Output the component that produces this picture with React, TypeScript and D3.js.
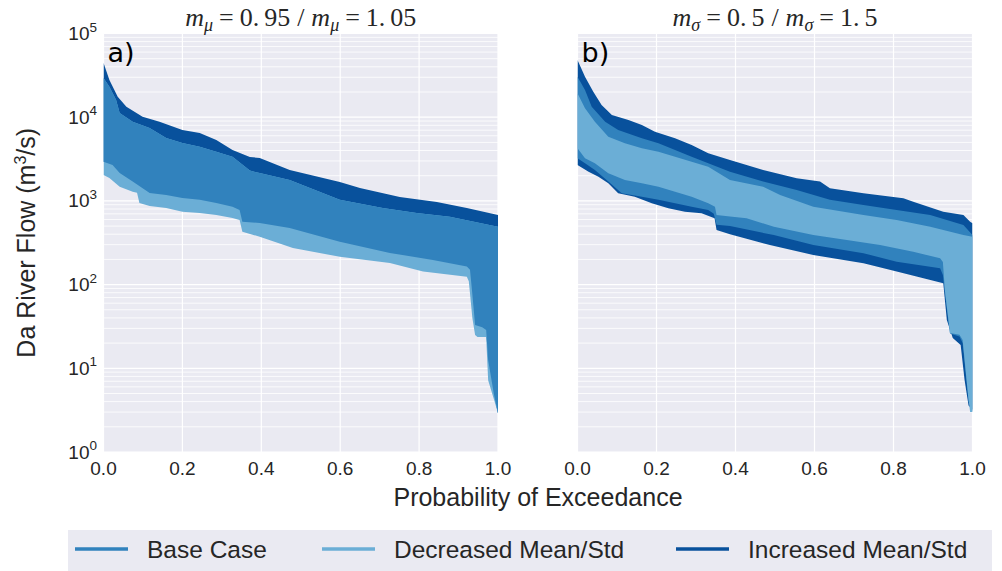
import { useEffect, useRef } from 'react'
import * as d3 from 'd3'

type Pt = [number, number]

const COLOR = {
  base: '#3182bd',
  dec: '#6baed6',
  inc: '#08519c',
}

const X_TICKS = [0, 0.2, 0.4, 0.6, 0.8, 1.0]
const Y_EXPONENTS = [0, 1, 2, 3, 4, 5]
const LEGEND_ITEMS: { label: string; key: 'base' | 'dec' | 'inc' }[] = [
  { label: 'Base Case', key: 'base' },
  { label: 'Decreased Mean/Std', key: 'dec' },
  { label: 'Increased Mean/Std', key: 'inc' },
]

// Panel a) m_mu = 0.95 / 1.05 : [probability of exceedance, flow m3/s]
const aIncUpper: Pt[] = [[0, 44800], [0.015, 27800], [0.036, 17600], [0.058, 13300], [0.099, 10100], [0.142, 8840], [0.2, 7030], [0.244, 6470], [0.286, 5340], [0.327, 4060], [0.371, 3340], [0.396, 3260], [0.472, 2340], [0.599, 1680], [0.65, 1430], [0.751, 1110], [0.845, 970], [0.921, 823], [1, 679]]
const aBaseUpper: Pt[] = [[0, 29400], [0.015, 23100], [0.032, 16000], [0.041, 11200], [0.074, 8840], [0.117, 7430], [0.159, 5640], [0.2, 4920], [0.244, 4440], [0.286, 3870], [0.327, 3370], [0.371, 2300], [0.396, 2150], [0.472, 1780], [0.599, 1030], [0.708, 823], [0.794, 716], [0.878, 647], [1, 492]]
const aBaseLower: Pt[] = [[0, 2940], [0.023, 2690], [0.041, 2150], [0.074, 1700], [0.117, 1240], [0.159, 1180], [0.2, 1080], [0.244, 1030], [0.286, 944], [0.327, 853], [0.345, 778], [0.352, 565], [0.396, 544], [0.472, 474], [0.599, 326], [0.726, 239], [0.835, 197], [0.921, 164], [0.929, 150], [0.934, 86], [0.942, 33], [0.96, 31], [0.97, 28.7], [0.975, 12.6], [0.99, 4.8], [1, 2.9]]
const aDecLower: Pt[] = [[0, 2040], [0.015, 1880], [0.041, 1480], [0.074, 1290], [0.085, 1250], [0.091, 944], [0.117, 869], [0.159, 823], [0.2, 743], [0.244, 716], [0.286, 679], [0.327, 625], [0.345, 592], [0.352, 429], [0.396, 373], [0.48, 274], [0.599, 215], [0.726, 181], [0.81, 143], [0.921, 124], [0.926, 110], [0.935, 40], [0.942, 25], [0.948, 23.7], [0.97, 23.7], [0.975, 7.2], [0.99, 4.2], [1, 2.9]]

// Panel b) m_sigma = 0.5 / 1.5
const bIncUpper: Pt[] = [[0, 48200], [0.019, 30500], [0.04, 20200], [0.061, 14000], [0.087, 10600], [0.129, 9270], [0.163, 8070], [0.196, 6710], [0.247, 5600], [0.289, 4660], [0.331, 3700], [0.386, 3080], [0.47, 2340], [0.555, 1860], [0.614, 1700], [0.639, 1415], [0.724, 1233], [0.825, 1075], [0.85, 978], [0.926, 743], [0.977, 679], [0.994, 565], [1, 540]]
const bBaseUpper: Pt[] = [[0, 30500], [0.019, 21100], [0.036, 13300], [0.07, 8840], [0.103, 7030], [0.163, 5600], [0.205, 4880], [0.247, 4060], [0.289, 3370], [0.331, 2810], [0.386, 2230], [0.47, 1700], [0.555, 1350], [0.639, 1030], [0.724, 893], [0.808, 778], [0.893, 679], [0.977, 515], [1, 391]]
const bDecUpper: Pt[] = [[0, 19300], [0.019, 12800], [0.044, 8840], [0.078, 5850], [0.12, 4880], [0.163, 4250], [0.205, 3870], [0.247, 3370], [0.289, 2940], [0.331, 2560], [0.386, 1780], [0.47, 1480], [0.513, 1180], [0.597, 853], [0.724, 679], [0.808, 592], [0.893, 492], [0.977, 391], [1, 373]]
const bDecLower: Pt[] = [[0, 4250], [0.019, 3230], [0.044, 2810], [0.078, 2140], [0.12, 1780], [0.163, 1620], [0.205, 1480], [0.247, 1290], [0.289, 1122], [0.331, 936], [0.348, 853], [0.352, 680], [0.386, 650], [0.428, 620], [0.497, 492], [0.597, 391], [0.682, 341], [0.766, 297], [0.85, 247], [0.918, 206], [0.925, 186], [0.93, 86], [0.943, 26.4], [0.967, 25.1], [0.975, 21.8], [0.99, 4.2], [0.994, 3.0], [1, 3.0]]
const bBaseLower: Pt[] = [[0, 3230], [0.019, 2810], [0.044, 2340], [0.078, 1700], [0.112, 1233], [0.163, 1122], [0.205, 1030], [0.247, 936], [0.289, 853], [0.331, 778], [0.345, 700], [0.352, 520], [0.386, 500], [0.497, 391], [0.597, 297], [0.724, 237], [0.808, 188], [0.918, 157], [0.925, 130], [0.93, 80], [0.943, 26], [0.967, 24], [0.975, 20], [0.99, 4], [1, 3]]
const bIncLower: Pt[] = [[0, 2690], [0.028, 2230], [0.053, 1945], [0.078, 1620], [0.103, 1233], [0.145, 1122], [0.188, 936], [0.23, 816], [0.272, 743], [0.314, 711], [0.347, 620], [0.352, 449], [0.386, 400], [0.487, 297], [0.597, 226], [0.724, 180], [0.808, 143], [0.926, 104], [0.935, 37.8], [0.95, 23], [0.97, 19], [0.98, 7.2], [0.99, 3.6], [1, 3.2]]

const SANS = 'Liberation Sans, Arial, sans-serif'
const SERIF = 'Liberation Serif, DejaVu Serif, serif'
const INK = '#262626'

export default function App() {
  const svgRef = useRef<SVGSVGElement>(null)

  useEffect(() => {
    const el = svgRef.current
    if (!el) return
    const svg = d3.select(el)
    svg.selectAll('*').remove()

    const top = 33.5
    const bottom = 452
    const y = d3.scaleLog().domain([1, 1e5]).range([bottom, top])

    // bands are drawn in order, later ones on top
    const panels = [
      {
        id: 'a', x0: 103.5, x1: 498, tag: 'a)', sub: 'μ', vals: ['0.95', '1.05'],
        bands: [
          { color: COLOR.inc, upper: aIncUpper, lower: aBaseLower },
          { color: COLOR.dec, upper: aBaseUpper, lower: aDecLower },
          { color: COLOR.base, upper: aBaseUpper, lower: aBaseLower },
        ],
      },
      {
        id: 'b', x0: 577.5, x1: 972.5, tag: 'b)', sub: 'σ', vals: ['0.5', '1.5'],
        bands: [
          { color: COLOR.inc, upper: bIncUpper, lower: bIncLower },
          { color: COLOR.base, upper: bBaseUpper, lower: bBaseLower },
          { color: COLOR.dec, upper: bDecUpper, lower: bDecLower },
        ],
      },
    ]

    const minorVals: number[] = []
    for (let k = 0; k < 5; k++) {
      for (let m = 2; m <= 9; m++) minorVals.push(m * Math.pow(10, k))
    }

    panels.forEach((p, i) => {
      const x = d3.scaleLinear().domain([0, 1]).range([p.x0, p.x1])
      const g = svg.append('g')

      g.append('rect')
        .attr('x', p.x0)
        .attr('y', top)
        .attr('width', p.x1 - p.x0)
        .attr('height', bottom - top)
        .attr('fill', '#eaeaf2')

      // minor + major grid
      g.selectAll('line.minor')
        .data(minorVals)
        .join('line')
        .attr('x1', p.x0)
        .attr('x2', p.x1)
        .attr('y1', (d) => y(d))
        .attr('y2', (d) => y(d))
        .attr('stroke', '#fff')
        .attr('stroke-width', 0.8)
      g.selectAll('line.hmajor')
        .data(Y_EXPONENTS)
        .join('line')
        .attr('x1', p.x0)
        .attr('x2', p.x1)
        .attr('y1', (d) => y(Math.pow(10, d)))
        .attr('y2', (d) => y(Math.pow(10, d)))
        .attr('stroke', '#fff')
        .attr('stroke-width', 1.2)
      g.selectAll('line.vmajor')
        .data(X_TICKS)
        .join('line')
        .attr('x1', (d) => x(d))
        .attr('x2', (d) => x(d))
        .attr('y1', top)
        .attr('y2', bottom)
        .attr('stroke', '#fff')
        .attr('stroke-width', 1.2)

      const clipId = `clip-${p.id}`
      svg.append('clipPath')
        .attr('id', clipId)
        .append('rect')
        .attr('x', p.x0)
        .attr('y', top)
        .attr('width', p.x1 - p.x0)
        .attr('height', bottom - top)

      const line = d3
        .line<Pt>()
        .x((d) => x(d[0]))
        .y((d) => y(d[1]))

      const bandG = g.append('g').attr('clip-path', `url(#${clipId})`)
      p.bands.forEach((b) => {
        bandG
          .append('path')
          .attr('d', line([...b.upper, ...b.lower.slice().reverse()]) + 'Z')
          .attr('fill', b.color)
      })

      // x tick labels
      g.selectAll('text.xt')
        .data(X_TICKS)
        .join('text')
        .attr('x', (d) => x(d))
        .attr('y', 475)
        .attr('text-anchor', 'middle')
        .attr('font-family', SANS)
        .attr('font-size', 19)
        .attr('fill', INK)
        .text((d) => d.toFixed(1))

      // panel tag
      g.append('text')
        .attr('x', p.x0 + 4)
        .attr('y', 62)
        .attr('font-family', 'DejaVu Sans, sans-serif')
        .attr('font-size', 27)
        .attr('fill', '#000')
        .text(p.tag)

      // title
      const t = g
        .append('text')
        .attr('x', (p.x0 + p.x1) / 2)
        .attr('y', 26)
        .attr('text-anchor', 'middle')
        .attr('font-family', SERIF)
        .attr('font-size', 26)
        .attr('fill', INK)
      p.vals.forEach((v, j) => {
        const [ip, fp] = v.split('.')
        if (j > 0) t.append('tspan').attr('dx', 7).text('/')
        t.append('tspan').attr('dx', j > 0 ? 7 : 0).attr('font-style', 'italic').text('m')
        t.append('tspan').attr('font-style', 'italic').attr('font-size', 18).attr('dy', 5).text(p.sub)
        t.append('tspan').attr('dy', -5).attr('dx', 6).text('=')
        t.append('tspan').attr('dx', 6).text(ip + '.')
        t.append('tspan').attr('dx', 5).text(fp)
      })

      // y tick labels, only on first panel
      if (i === 0) {
        Y_EXPONENTS.forEach((e) => {
          const yt = g
            .append('text')
            .attr('x', 97)
            .attr('y', y(Math.pow(10, e)) + 6.5)
            .attr('text-anchor', 'end')
            .attr('font-family', SANS)
            .attr('font-size', 19)
            .attr('fill', INK)
          yt.append('tspan').text('10')
          yt.append('tspan').attr('dy', -8.5).attr('font-size', 13.5).text(String(e))
        })
      }
    })

    // axis labels
    const yl = svg
      .append('text')
      .attr('transform', `translate(35,${(top + bottom) / 2}) rotate(-90)`)
      .attr('text-anchor', 'middle')
      .attr('font-family', SANS)
      .attr('font-size', 25)
      .attr('fill', INK)
    yl.append('tspan').text('Da River Flow (m')
    yl.append('tspan').attr('dy', -9).attr('font-size', 16).text('3')
    yl.append('tspan').attr('dy', 9).text('/s)')

    svg
      .append('text')
      .attr('x', (panels[0].x0 + panels[1].x1) / 2)
      .attr('y', 506)
      .attr('text-anchor', 'middle')
      .attr('font-family', SANS)
      .attr('font-size', 25)
      .attr('fill', INK)
      .text('Probability of Exceedance')

    // legend
    const lg = svg.append('g')
    lg.append('rect')
      .attr('x', 68)
      .attr('y', 530)
      .attr('width', 924)
      .attr('height', 50)
      .attr('fill', '#eaeaf2')
    const legendX = [75, 322, 676]
    LEGEND_ITEMS.forEach((it, k) => {
      lg.append('line')
        .attr('x1', legendX[k])
        .attr('x2', legendX[k] + 53)
        .attr('y1', 549)
        .attr('y2', 549)
        .attr('stroke', COLOR[it.key])
        .attr('stroke-width', 3.5)
      lg.append('text')
        .attr('x', legendX[k] + 72)
        .attr('y', 558)
        .attr('font-family', SANS)
        .attr('font-size', 24.5)
        .attr('fill', INK)
        .text(it.label)
    })
  }, [])

  return (
    <svg
      ref={svgRef}
      width={1002}
      height={571}
      style={{ position: 'absolute', left: 0, top: 0, background: '#fff' }}
    />
  )
}
